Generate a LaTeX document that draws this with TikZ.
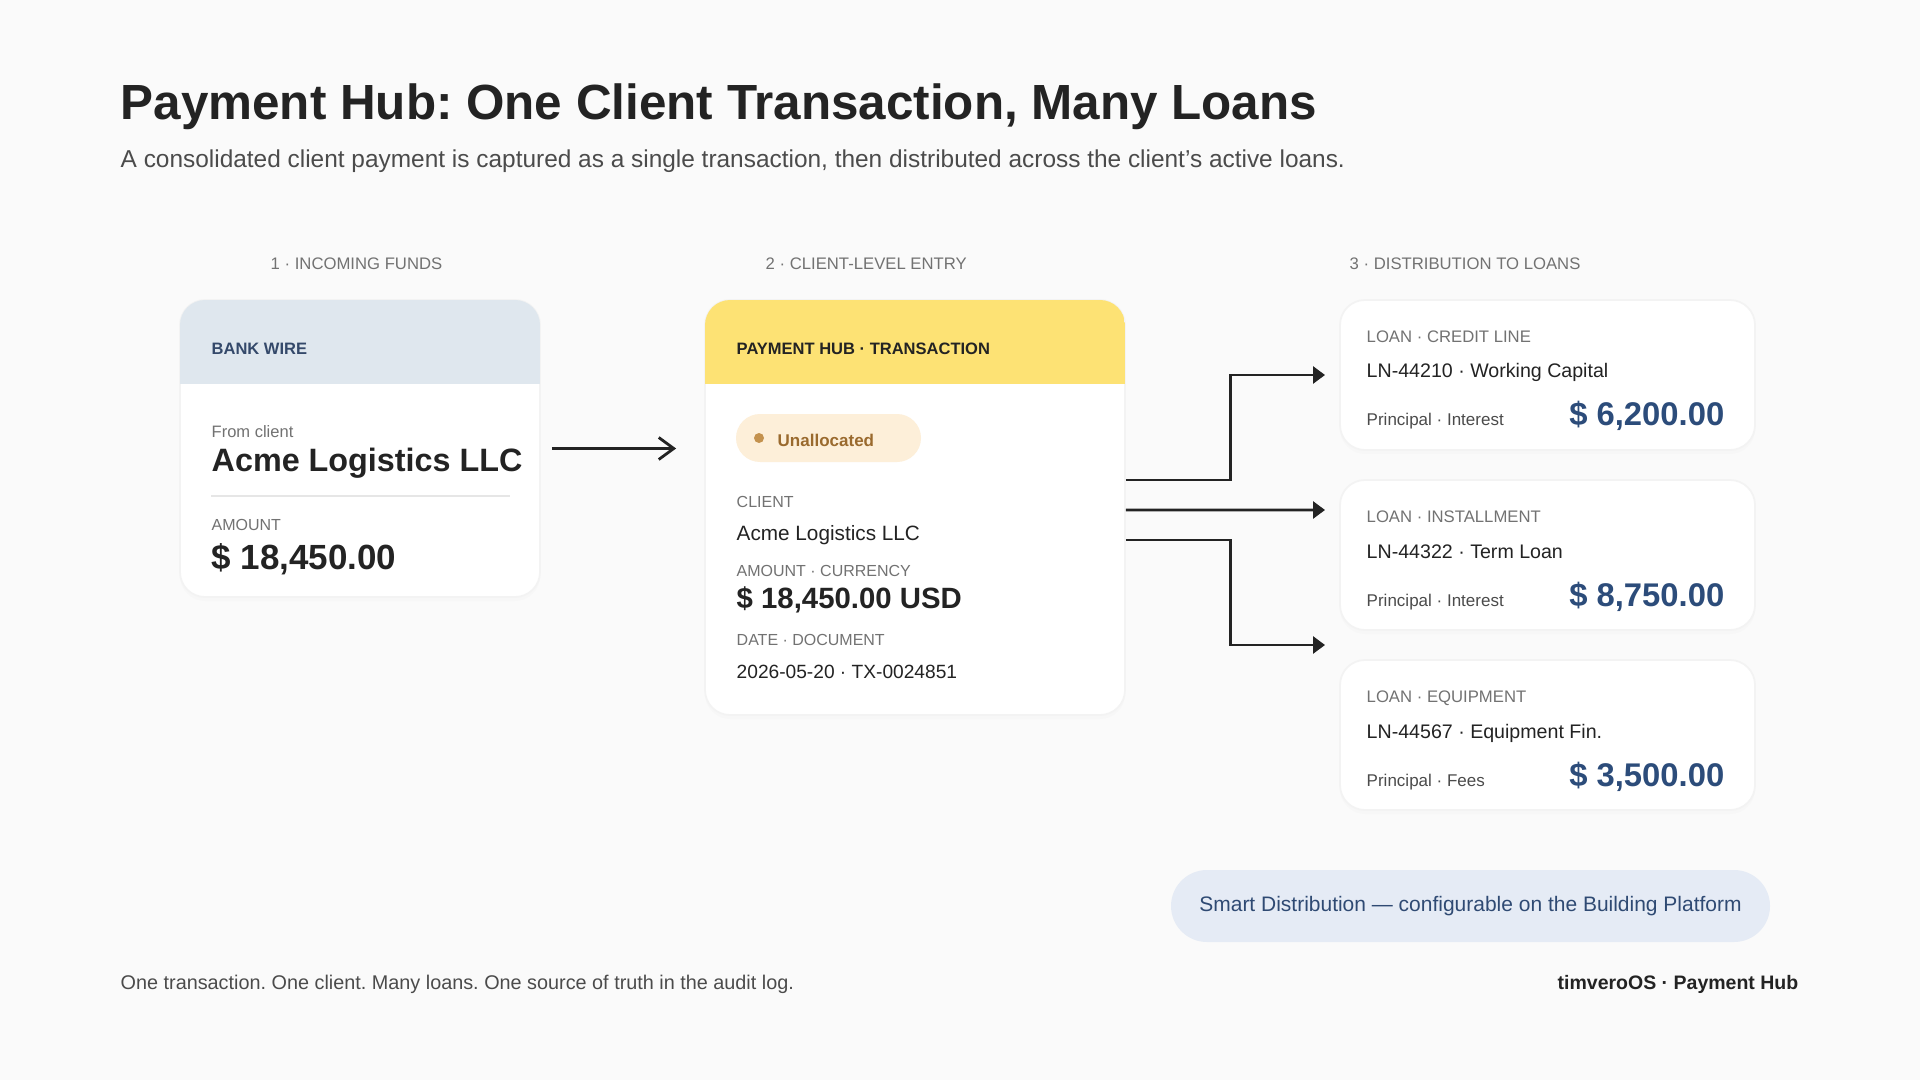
\documentclass[tikz,border=0pt]{standalone}
\usepackage{fontspec}
\setmainfont{Liberation Sans}
\usetikzlibrary{arrows.meta,shadows}
\frenchspacing

\definecolor{bgpage}{HTML}{FAFAFA}
\definecolor{ink}{HTML}{232323}
\definecolor{subink}{HTML}{4B4B4B}
\definecolor{muted}{HTML}{727272}
\definecolor{wirefill}{HTML}{DFE7EE}
\definecolor{wireink}{HTML}{34496A}
\definecolor{hubfill}{HTML}{FDE274}
\definecolor{tagfill}{HTML}{FDEFD9}
\definecolor{tagdot}{HTML}{C4924E}
\definecolor{tagink}{HTML}{9A6A2E}
\definecolor{loanblue}{HTML}{2C4C7A}
\definecolor{notefill}{HTML}{E5EBF5}
\definecolor{noteink}{HTML}{2F4A73}
\definecolor{rulegray}{HTML}{E6E6E6}
\definecolor{edgegray}{HTML}{F3F3F3}

\begin{document}
\begin{tikzpicture}[
  txt/.style={anchor=base west,inner sep=0},
  card/.style={draw=edgegray,line width=0.5pt,fill=white,rounded corners=0.25cm,
    drop shadow={opacity=0.025,shadow xshift=0cm,shadow yshift=-0.04cm}},
  steplabel/.style={txt,text=muted,font=\fontsize{4.75pt}{5.7pt}\selectfont},
  headlabel/.style={txt,font=\bfseries\fontsize{4.7pt}{5.6pt}\selectfont},
  smallcap/.style={txt,text=muted,font=\fontsize{4.55pt}{5.5pt}\selectfont},
  flowa/.style={draw=ink,line width=0.8pt,-{Straight Barb[length=0.15cm,width=0.22cm]}},
  flowb/.style={draw=ink,line width=0.8pt,-{Triangle[length=0.12cm,width=0.17cm]}},
  loanlabel/.style={txt,text=muted,font=\fontsize{4.75pt}{5.7pt}\selectfont},
  loanid/.style={txt,text=ink,font=\fontsize{5.58pt}{6.7pt}\selectfont},
  split/.style={txt,text=subink,font=\fontsize{4.84pt}{5.8pt}\selectfont},
  share/.style={anchor=base east,inner sep=0,text=loanblue,font=\bfseries\fontsize{9.33pt}{11pt}\selectfont}
]
\useasboundingbox (0,0) rectangle (19.2,-10.8);
\fill[bgpage] (0,0) rectangle (19.2,-10.8);

% title
\node[txt,text=ink,font=\bfseries\fontsize{14.05pt}{16.5pt}\selectfont] (title) at (1.20,-1.20) {Payment Hub: One Client Transaction, Many Loans};
\node[txt,text=subink,font=\fontsize{6.95pt}{8.3pt}\selectfont] (subtitle) at (1.20,-1.68) {A consolidated client payment is captured as a single transaction, then distributed across the client's active loans.};

% step labels
\node[steplabel] (step1) at (2.70,-2.70) {1 · INCOMING FUNDS};
\node[steplabel] (step2) at (7.65,-2.70) {2 · CLIENT-LEVEL ENTRY};
\node[steplabel] (step3) at (13.49,-2.70) {3 · DISTRIBUTION TO LOANS};

% bank wire card
\node[card,minimum width=3.6cm,minimum height=2.97cm] (wire) at (3.60,-4.485) {};
\begin{scope}
  \clip[rounded corners=0.25cm] (1.80,-3.00) rectangle (5.40,-5.97);
  \fill[wirefill] (1.80,-3.00) rectangle (5.40,-3.84);
\end{scope}
\node[headlabel,text=wireink] (wiretag) at (2.11,-3.545) {BANK WIRE};
\node[txt,text=muted,font=\fontsize{4.7pt}{5.6pt}\selectfont] (fromlbl) at (2.11,-4.38) {From client};
\node[txt,text=ink,font=\bfseries\fontsize{9.2pt}{11pt}\selectfont] (fromname) at (2.11,-4.71) {Acme Logistics LLC};
\draw[rulegray,line width=0.6pt] (2.11,-4.96) -- (5.10,-4.96);
\node[smallcap] (amtlbl) at (2.11,-5.31) {AMOUNT};
\node[txt,text=ink,font=\bfseries\fontsize{9.95pt}{12pt}\selectfont] (amt) at (2.11,-5.69) {\$ 18,450.00};

% payment hub card
\node[card,minimum width=4.2cm,minimum height=4.15cm] (hub) at (9.15,-5.075) {};
\begin{scope}
  \clip[rounded corners=0.25cm] (7.05,-3.00) rectangle (11.25,-7.15);
  \fill[hubfill] (7.05,-3.00) rectangle (11.25,-3.84);
\end{scope}
\node[headlabel,text=ink] (hubtag) at (7.36,-3.545) {PAYMENT HUB · TRANSACTION};
\node[fill=tagfill,rounded corners=0.24cm,minimum width=1.85cm,minimum height=0.48cm,inner sep=0] (state) at (8.285,-4.38) {};
\fill[tagdot] (7.59,-4.38) circle (0.05);
\node[txt,text=tagink,font=\bfseries\fontsize{4.84pt}{5.8pt}\selectfont] (statetxt) at (7.77,-4.47) {Unallocated};
\node[smallcap] (clientlbl) at (7.36,-5.07) {CLIENT};
\node[txt,text=ink,font=\fontsize{5.9pt}{7pt}\selectfont] (client) at (7.36,-5.40) {Acme Logistics LLC};
\node[smallcap] (curlbl) at (7.36,-5.76) {AMOUNT · CURRENCY};
\node[txt,text=ink,font=\bfseries\fontsize{8.35pt}{10pt}\selectfont] (cur) at (7.36,-6.08) {\$ 18,450.00 USD};
\node[smallcap] (doclbl) at (7.36,-6.45) {DATE · DOCUMENT};
\node[txt,text=ink,font=\fontsize{5.45pt}{6.5pt}\selectfont] (doc) at (7.36,-6.78) {2026-05-20 · TX-0024851};

% loan cards
\node[card,minimum width=4.15cm,minimum height=1.5cm] (L1) at (15.475,-3.75) {};
\node[card,minimum width=4.15cm,minimum height=1.5cm] (L2) at (15.475,-5.55) {};
\node[card,minimum width=4.15cm,minimum height=1.5cm] (L3) at (15.475,-7.35) {};

\node[loanlabel] (L1a) at (13.66,-3.425) {LOAN · CREDIT LINE};
\node[loanid] (L1b) at (13.66,-3.78) {LN-44210 · Working Capital};
\node[split] (L1c) at (13.66,-4.26) {Principal · Interest};
\node[share] (L1d) at (17.25,-4.26) {\$ 6,200.00};

\node[loanlabel] (L2a) at (13.66,-5.225) {LOAN · INSTALLMENT};
\node[loanid] (L2b) at (13.66,-5.58) {LN-44322 · Term Loan};
\node[split] (L2c) at (13.66,-6.06) {Principal · Interest};
\node[share] (L2d) at (17.25,-6.06) {\$ 8,750.00};

\node[loanlabel] (L3a) at (13.66,-7.025) {LOAN · EQUIPMENT};
\node[loanid] (L3b) at (13.66,-7.38) {LN-44567 · Equipment Fin.};
\node[split] (L3c) at (13.66,-7.86) {Principal · Fees};
\node[share] (L3d) at (17.25,-7.86) {\$ 3,500.00};

% connectors
\draw[flowa,shorten <=0.11cm,shorten >=0.28cm] (wire.east) -- (wire.east -| hub.west);
\coordinate (t1) at (13.25,-3.75);
\coordinate (t2) at (13.25,-5.10);
\coordinate (t3) at (13.25,-6.45);
\draw[flowb] ([yshift=0.275cm]hub.east) -- ++(1.05,0) |- (t1);
\draw[flowb] ([yshift=-0.025cm]hub.east) -- (t2);
\draw[flowb] ([yshift=-0.325cm]hub.east) -- ++(1.05,0) |- (t3);

% note and footer
\node[fill=notefill,rounded corners=0.36cm,minimum width=5.99cm,minimum height=0.72cm,inner sep=0,text=noteink,font=\fontsize{5.97pt}{7pt}\selectfont] (note) at (14.705,-9.06) {Smart Distribution — configurable on the Building Platform};
\node[txt,text=subink,font=\fontsize{5.64pt}{6.8pt}\selectfont] (footl) at (1.20,-9.89) {One transaction. One client. Many loans. One source of truth in the audit log.};
\node[anchor=base east,inner sep=0,text=ink,font=\bfseries\fontsize{5.55pt}{6.6pt}\selectfont] (footr) at (17.99,-9.89) {timveroOS · Payment Hub};
\end{tikzpicture}
\end{document}
